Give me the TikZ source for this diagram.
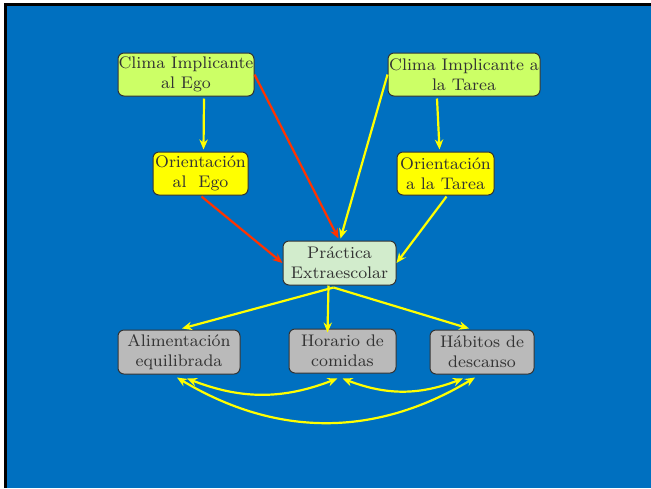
\documentclass[tikz,border=0pt]{standalone}
\usetikzlibrary{arrows.meta,calc}
\definecolor{slideblue}{RGB}{0,112,192}
\definecolor{climagreen}{RGB}{204,255,102}
\definecolor{orientyellow}{RGB}{255,255,0}
\definecolor{practgreen}{RGB}{210,236,204}
\definecolor{habitgray}{RGB}{186,186,186}
\definecolor{linkyellow}{RGB}{255,255,0}
\definecolor{linkred}{RGB}{255,51,0}
\definecolor{inktext}{RGB}{51,51,51}
\begin{document}
\begin{tikzpicture}[x=0.5pt,y=-0.5pt,
  box/.style={draw=black!80, line width=0.5pt, rounded corners=3pt,
    align=center, inner sep=0pt, text=inktext,
    font=\fontsize{8.4}{10}\selectfont},
  clima/.style={box, fill=climagreen, minimum height=21.5pt},
  orient/.style={box, fill=orientyellow, minimum height=21.5pt},
  pract/.style={box, fill=practgreen, minimum height=22pt},
  habit/.style={box, fill=habitgray, minimum height=22pt},
  link/.style={draw=linkyellow, line width=1.1pt, -{Stealth[length=5pt,width=4.2pt]}},
  redlink/.style={link, draw=linkred, -{Stealth[length=5pt,width=4.2pt,color=linkred]}},
  both/.style={draw=linkyellow, line width=1.1pt, {Stealth[length=5pt,width=4.2pt]}-{Stealth[length=5pt,width=4.2pt]}}]
  % page background and frame
  \useasboundingbox (0,0) rectangle (651,488);
  \fill[white] (0,0) rectangle (651,488);
  \fill[black] (4,3) rectangle (651,488);
  \fill[slideblue] (7,6) rectangle (651,488);

  % boxes
  \node[clima, minimum width=68pt] (ce) at (186,74.5) {Clima Implicante\\al Ego};
  \node[clima, minimum width=76pt] (ct) at (464,74.5) {Clima Implicante a\\la Tarea};
  \node[orient, minimum width=47.5pt] (oe) at (200.5,173.5) {Orientación\\al\ \ Ego};
  \node[orient, minimum width=48.5pt] (ot) at (445.5,173.5) {Orientación\\a la Tarea};
  \node[pract, minimum width=56.5pt] (pe) at (339.5,263) {Práctica\\Extraescolar};
  \node[habit, minimum width=61pt] (al) at (179,352) {Alimentación\\equilibrada};
  \node[habit, minimum width=53.5pt] (ho) at (342.5,351) {Horario de\\comidas};
  \node[habit, minimum width=52pt] (hd) at (482,352) {Hábitos de\\descanso};

  % influences on the practice
  \draw[link] ($(ce.south)+(18,2)$) -- ($(oe.north)+(3,-2)$);
  \draw[link] ($(ct.south)+(-27,2)$) -- ($(ot.north)+(-6,-2)$);
  \draw[redlink] (ce.east) -- ($(pe.north)+(-1,-2)$);
  \draw[link] (ct.west) -- ($(pe.north)+(1,-2)$);
  \draw[redlink] ($(oe.south)+(1,1)$) -- (pe.west);
  \draw[link] ($(ot.south)+(1,1)$) -- (pe.east);

  % practice towards habits
  \coordinate (pb) at ($(pe.south)+(-6,2)$);
  \draw[link] (pb) -- ($(al.north)+(3,-1)$);
  \draw[link] ($(pe.south)+(-11,0)$) -- ($(ho.north)+(-15,4)$);
  \draw[link] (pb) -- ($(hd.north)+(-13,-1)$);

  % mutual relations between habits
  \draw[both] ($(al.south)+(8,4)$) to[bend right=21] ($(ho.south)+(-5,5)$);
  \draw[both] ($(ho.south)+(0,5)$) to[bend right=21] ($(hd.south)+(-19,4)$);
  \draw[both] ($(al.south)+(-2,3)$) to[bend right=31] ($(hd.south)+(-7,3)$);
\end{tikzpicture}
\end{document}
